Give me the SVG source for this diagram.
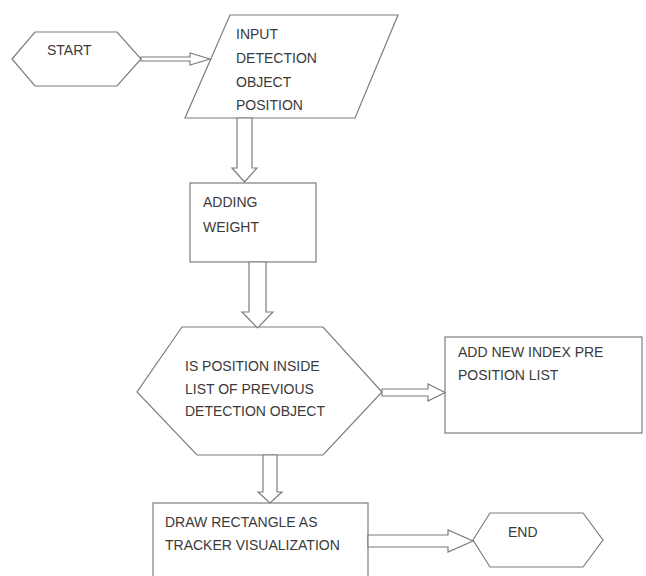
<svg xmlns="http://www.w3.org/2000/svg" width="646" height="576" viewBox="0 0 646 576">
<style>
.n{fill:#fff;stroke:#7d7d7d;stroke-width:1.2}
.a{fill:#fff;stroke:#7d7d7d;stroke-width:1.2;stroke-linejoin:miter}
.t{font-family:"Liberation Sans",Arial,sans-serif;font-size:14px;fill:#3a3a3a}
</style>
<rect width="646" height="576" fill="#fff"/>
<g id="start">
<polygon class="n" points="12,59 35,32 117,32 141,59 117,86 35,86"/>
<text class="t" x="47" y="55">START</text>
</g>
<g id="input">
<polygon class="n" points="230,15 398,15 355,118 185,118"/>
<text class="t" x="236" y="39">INPUT</text>
<text class="t" x="236" y="63">DETECTION</text>
<text class="t" x="236" y="87">OBJECT</text>
<text class="t" x="236" y="110">POSITION</text>
</g>
<g id="adding">
<rect class="n" x="190" y="183" width="126" height="79"/>
<text class="t" x="203" y="207">ADDING</text>
<text class="t" x="203" y="232">WEIGHT</text>
</g>
<g id="decision">
<polygon class="n" points="182,327 323,327 382,392 323,455 197,455 137,392"/>
<text class="t" x="185" y="371">IS POSITION INSIDE</text>
<text class="t" x="185" y="394">LIST OF PREVIOUS</text>
<text class="t" x="185" y="416">DETECTION OBJECT</text>
</g>
<g id="addindex">
<rect class="n" x="445" y="337" width="197" height="96"/>
<text class="t" x="458" y="357">ADD NEW INDEX PRE</text>
<text class="t" x="458" y="380">POSITION LIST</text>
</g>
<g id="draw">
<rect class="n" x="153" y="503" width="215" height="80"/>
<text class="t" x="165" y="527">DRAW RECTANGLE AS</text>
<text class="t" x="165" y="550">TRACKER VISUALIZATION</text>
</g>
<g id="end">
<polygon class="n" points="473,540 490,513 583,513 603,540 583,567 490,567"/>
<text class="t" x="508" y="537">END</text>
</g>
<g id="connectors">
<polygon class="a" points="141,57 190,57 190,53 210,59 190,65 190,61 141,61"/>
<polygon class="a" points="237,118 252,118 252,168 257,168 244.5,182 232,168 237,168"/>
<polygon class="a" points="249,262 266,262 266,312 273,312 257.5,328 242,312 249,312"/>
<polygon class="a" points="382,389 428,389 428,384 445,392.5 428,401 428,396 382,396"/>
<polygon class="a" points="263,455 277,455 277,492 282,492 270,503 258,492 263,492"/>
<polygon class="a" points="368,535 448,535 448,530 473,541 448,552 448,547 368,547"/>
</g>
</svg>
